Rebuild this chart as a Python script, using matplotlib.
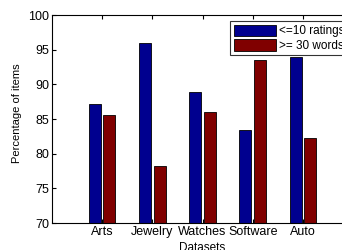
import numpy as np
import matplotlib
matplotlib.use('Agg')
import matplotlib.pyplot as plt

plt.rcParams['font.family'] = ['Liberation Sans', 'DejaVu Sans']

datasets = ['Arts', 'Jewelry', 'Watches', 'Software', 'Auto']
few_ratings = [87.1, 95.9, 88.9, 83.4, 93.9]   # <=10 ratings
long_reviews = [85.6, 78.2, 86.0, 93.5, 82.2]  # >= 30 words

fig = plt.figure(figsize=(3.42, 2.5), dpi=100)
ax = fig.add_axes([52/342, 27/250, 301/342, 208/250])

x = np.arange(1, len(datasets) + 1)
w = 0.24
ax.bar(x - 0.145, few_ratings, w, color='#00008f', edgecolor='black', linewidth=0.6, label='<=10 ratings')
ax.bar(x + 0.145, long_reviews, w, color='#800000', edgecolor='black', linewidth=0.6, label='>= 30 words')

ax.set_xlim(0, 6)
ax.set_ylim(70, 100)
ax.set_xticks(x)
ax.set_xticklabels(datasets)
ax.set_yticks([70, 75, 80, 85, 90, 95, 100])
ax.tick_params(direction='in', top=True, right=True, labelsize=9, length=3, pad=2)
for s in ax.spines.values():
    s.set_linewidth(0.8)

ax.set_xlabel('Datasets', fontsize=8.5, labelpad=3)
ax.set_ylabel('Percentage of items', fontsize=8)
ax.yaxis.set_label_coords(-0.1, 0.53)

leg = ax.legend(loc='upper left', bbox_to_anchor=(178/301, 0.97), borderaxespad=0, fontsize=8.5,
                frameon=True, fancybox=False, edgecolor='black', handlelength=3.6, handleheight=1.1,
                borderpad=0.3, labelspacing=0.15, handletextpad=0.25)
leg.get_frame().set_linewidth(0.8)

fig.savefig('out.png', dpi=100)
